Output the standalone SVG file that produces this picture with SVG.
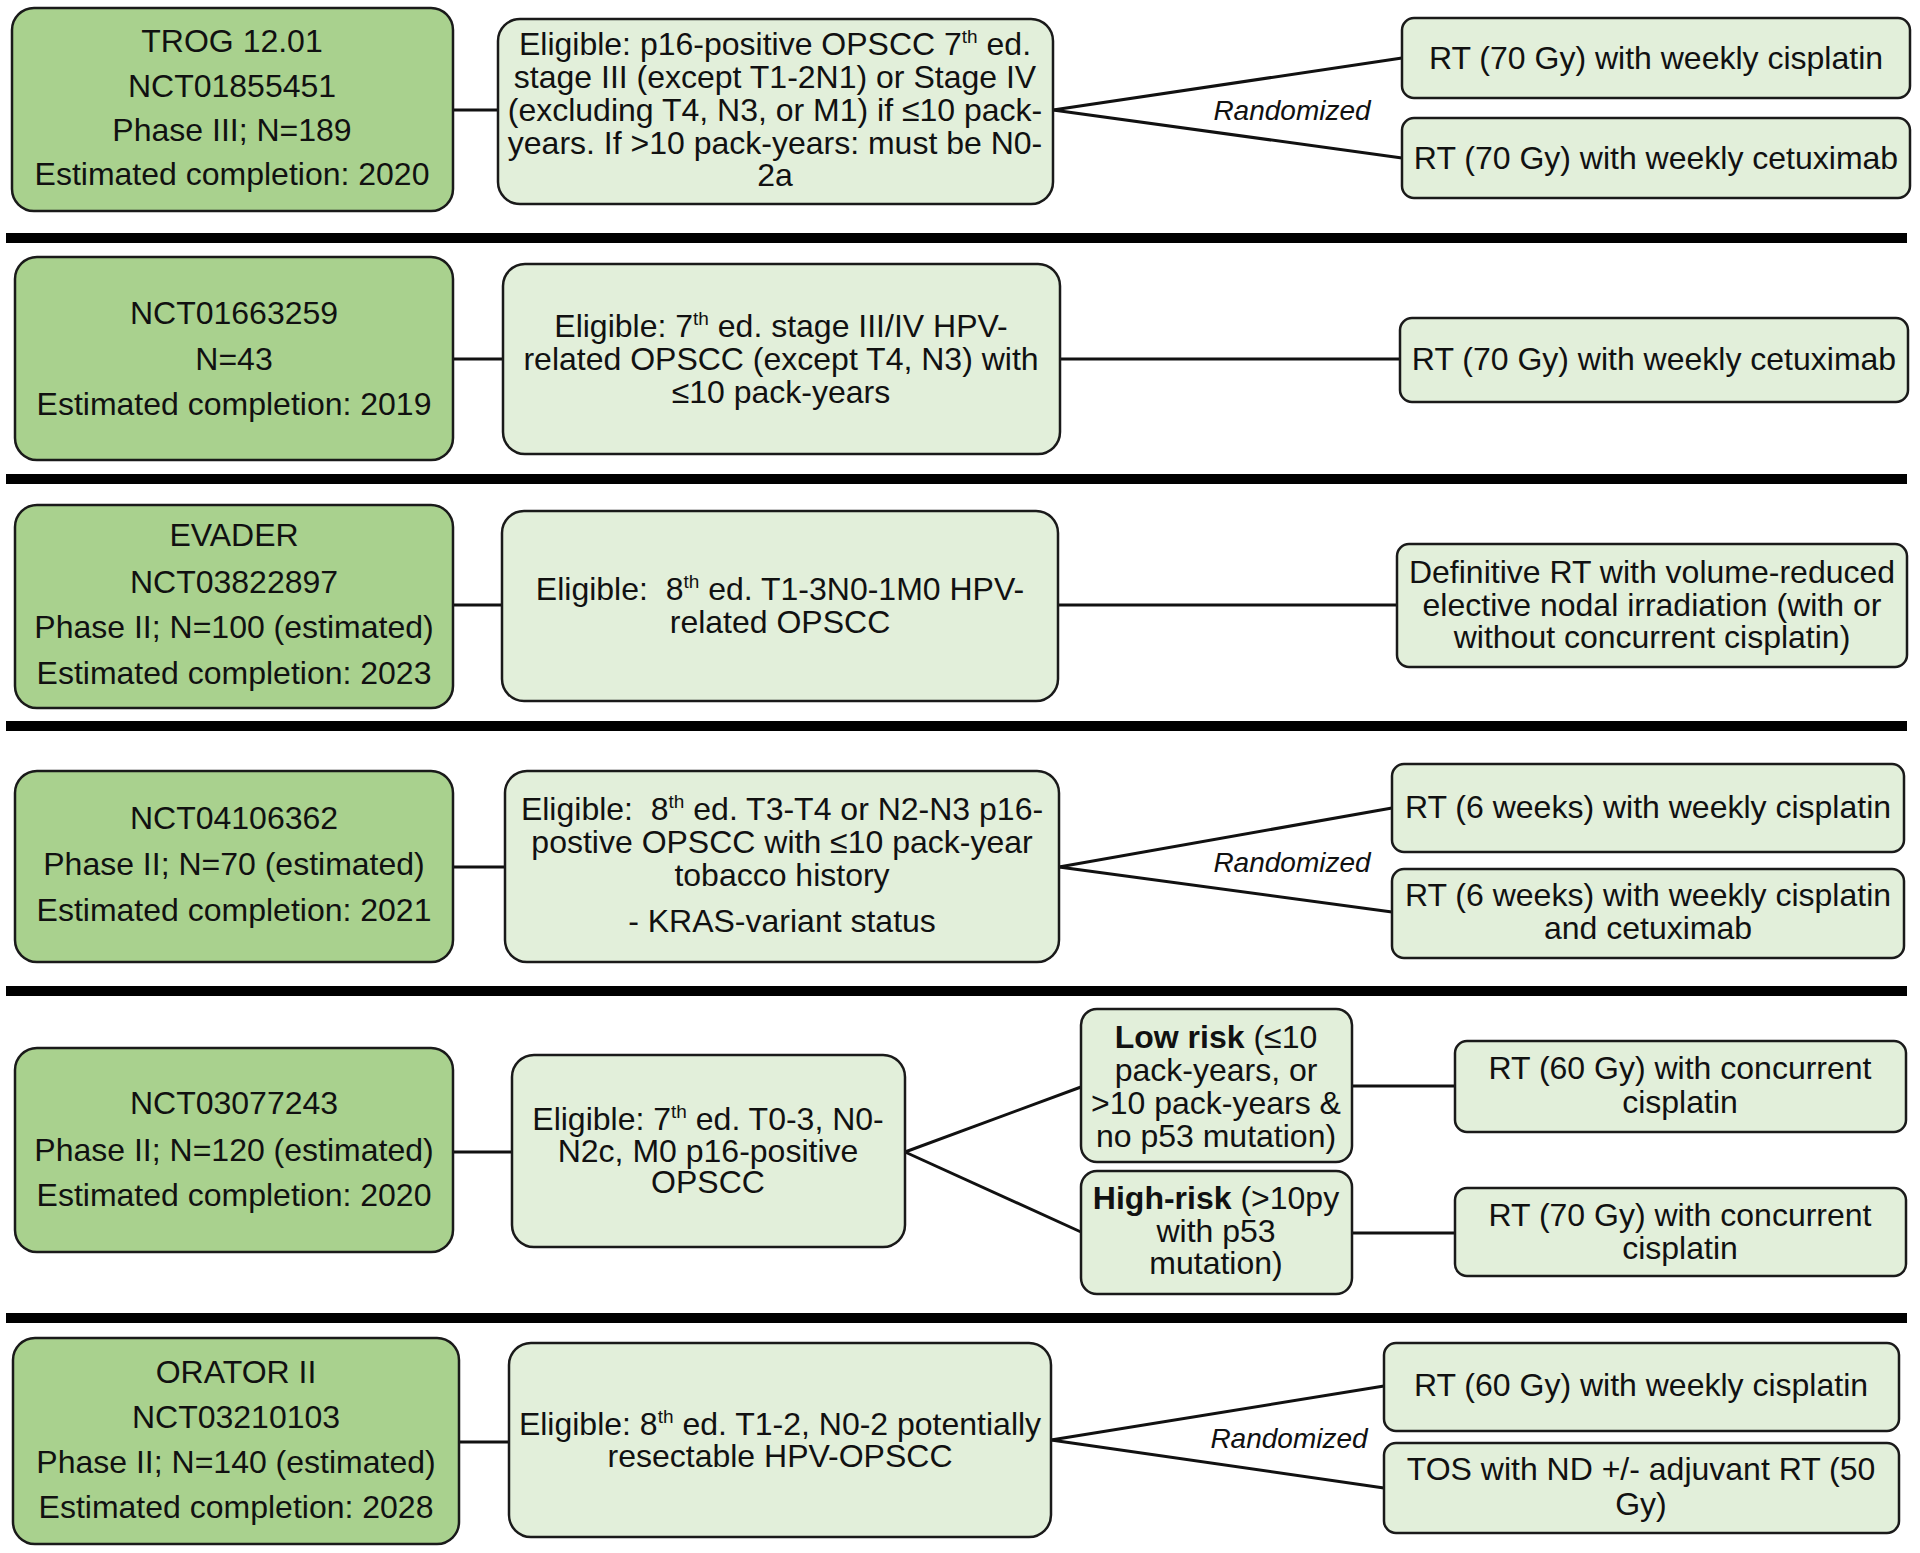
<svg xmlns="http://www.w3.org/2000/svg" width="1920" height="1553" viewBox="0 0 1920 1553">
<style>
  .trial{fill:#a9d18e;stroke:#1a1a1a;stroke-width:2.5}
  .box{fill:#e2efda;stroke:#1a1a1a;stroke-width:2.5}
  .bar{fill:#000}
  text{font-family:"Liberation Sans",Arial,sans-serif;font-size:32px;fill:#111;text-anchor:middle}
  .rand{font-size:28px;font-style:italic}
  .b{font-weight:bold}
  .conn line{stroke:#111;stroke-width:3}
</style>
<rect width="1920" height="1553" fill="#fff"/>
<g id="separators">
  <rect class="bar" x="6" y="233" width="1901" height="10"/>
  <rect class="bar" x="6" y="474" width="1901" height="10"/>
  <rect class="bar" x="6" y="721" width="1901" height="10"/>
  <rect class="bar" x="6" y="986" width="1901" height="10"/>
  <rect class="bar" x="6" y="1313" width="1901" height="10"/>
</g>
<g id="connectors" class="conn">
  <line x1="453" y1="110" x2="498" y2="110"/>
  <line x1="1053" y1="110" x2="1402" y2="58"/>
  <line x1="1053" y1="110" x2="1402" y2="158"/>
  <line x1="453" y1="359" x2="503" y2="359"/>
  <line x1="1060" y1="359" x2="1400" y2="359"/>
  <line x1="453" y1="605" x2="502" y2="605"/>
  <line x1="1058" y1="605" x2="1397" y2="605"/>
  <line x1="453" y1="867" x2="505" y2="867"/>
  <line x1="1059" y1="867" x2="1392" y2="808"/>
  <line x1="1059" y1="867" x2="1392" y2="912"/>
  <line x1="453" y1="1152" x2="512" y2="1152"/>
  <line x1="905" y1="1152" x2="1081" y2="1087"/>
  <line x1="905" y1="1152" x2="1081" y2="1232"/>
  <line x1="1352" y1="1086" x2="1455" y2="1086"/>
  <line x1="1352" y1="1233" x2="1455" y2="1233"/>
  <line x1="459" y1="1442" x2="509" y2="1442"/>
  <line x1="1051" y1="1440" x2="1384" y2="1386"/>
  <line x1="1051" y1="1440" x2="1384" y2="1488"/>
</g>
<g id="labels">
  <text class="rand" x="1292" y="120">Randomized</text>
  <text class="rand" x="1292" y="872">Randomized</text>
  <text class="rand" x="1289" y="1448">Randomized</text>
</g>
<!-- Row 1 -->
<g id="trog">
  <rect class="trial" x="12" y="8" width="441" height="203" rx="22"/>
  <text x="232" y="52">TROG 12.01</text>
  <text x="232" y="97">NCT01855451</text>
  <text x="232" y="141">Phase III; N=189</text>
  <text x="232" y="185">Estimated completion: 2020</text>
</g>
<g id="elig1">
  <rect class="box" x="498" y="19" width="555" height="185" rx="22"/>
  <text x="775" y="55">Eligible: p16-positive OPSCC 7<tspan font-size="19" dy="-12">th</tspan><tspan dy="12"> ed.</tspan></text>
  <text x="775" y="88">stage III (except T1-2N1) or Stage IV</text>
  <text x="775" y="121">(excluding T4, N3, or M1) if ≤10 pack-</text>
  <text x="775" y="154">years. If &gt;10 pack-years: must be N0-</text>
  <text x="775" y="186">2a</text>
</g>
<g id="arm1a">
  <rect class="box" x="1402" y="18" width="508" height="80" rx="12"/>
  <text x="1656" y="69">RT (70 Gy) with weekly cisplatin</text>
</g>
<g id="arm1b">
  <rect class="box" x="1402" y="118" width="508" height="80" rx="12"/>
  <text x="1656" y="169">RT (70 Gy) with weekly cetuximab</text>
</g>
<!-- Row 2 -->
<g id="nct01663259">
  <rect class="trial" x="15" y="257" width="438" height="203" rx="22"/>
  <text x="234" y="324">NCT01663259</text>
  <text x="234" y="370">N=43</text>
  <text x="234" y="415">Estimated completion: 2019</text>
</g>
<g id="elig2">
  <rect class="box" x="503" y="264" width="557" height="190" rx="22"/>
  <text x="781" y="337">Eligible: 7<tspan font-size="19" dy="-12">th</tspan><tspan dy="12"> ed. stage III/IV HPV-</tspan></text>
  <text x="781" y="370">related OPSCC (except T4, N3) with</text>
  <text x="781" y="403">≤10 pack-years</text>
</g>
<g id="arm2">
  <rect class="box" x="1400" y="318" width="508" height="84" rx="12"/>
  <text x="1654" y="370">RT (70 Gy) with weekly cetuximab</text>
</g>
<!-- Row 3 -->
<g id="evader">
  <rect class="trial" x="15" y="505" width="438" height="203" rx="22"/>
  <text x="234" y="546">EVADER</text>
  <text x="234" y="593">NCT03822897</text>
  <text x="234" y="638">Phase II; N=100 (estimated)</text>
  <text x="234" y="684">Estimated completion: 2023</text>
</g>
<g id="elig3">
  <rect class="box" x="502" y="511" width="556" height="190" rx="22"/>
  <text x="780" y="600">Eligible:&#160; 8<tspan font-size="19" dy="-12">th</tspan><tspan dy="12"> ed. T1-3N0-1M0 HPV-</tspan></text>
  <text x="780" y="633">related OPSCC</text>
</g>
<g id="arm3">
  <rect class="box" x="1397" y="544" width="510" height="123" rx="12"/>
  <text x="1652" y="583">Definitive RT with volume-reduced</text>
  <text x="1652" y="616">elective nodal irradiation (with or</text>
  <text x="1652" y="648">without concurrent cisplatin)</text>
</g>
<!-- Row 4 -->
<g id="nct04106362">
  <rect class="trial" x="15" y="771" width="438" height="191" rx="22"/>
  <text x="234" y="829">NCT04106362</text>
  <text x="234" y="875">Phase II; N=70 (estimated)</text>
  <text x="234" y="921">Estimated completion: 2021</text>
</g>
<g id="elig4">
  <rect class="box" x="505" y="771" width="554" height="191" rx="22"/>
  <text x="782" y="820">Eligible:&#160; 8<tspan font-size="19" dy="-12">th</tspan><tspan dy="12"> ed. T3-T4 or N2-N3 p16-</tspan></text>
  <text x="782" y="853">postive OPSCC with ≤10 pack-year</text>
  <text x="782" y="886">tobacco history</text>
  <text x="782" y="932">- KRAS-variant status</text>
</g>
<g id="arm4a">
  <rect class="box" x="1392" y="764" width="512" height="88" rx="12"/>
  <text x="1648" y="818">RT (6 weeks) with weekly cisplatin</text>
</g>
<g id="arm4b">
  <rect class="box" x="1392" y="869" width="512" height="89" rx="12"/>
  <text x="1648" y="906">RT (6 weeks) with weekly cisplatin</text>
  <text x="1648" y="939">and cetuximab</text>
</g>
<!-- Row 5 -->
<g id="nct03077243">
  <rect class="trial" x="15" y="1048" width="438" height="204" rx="22"/>
  <text x="234" y="1114">NCT03077243</text>
  <text x="234" y="1161">Phase II; N=120 (estimated)</text>
  <text x="234" y="1206">Estimated completion: 2020</text>
</g>
<g id="elig5">
  <rect class="box" x="512" y="1055" width="393" height="192" rx="22"/>
  <text x="708" y="1130">Eligible: 7<tspan font-size="19" dy="-12">th</tspan><tspan dy="12"> ed. T0-3, N0-</tspan></text>
  <text x="708" y="1162">N2c, M0 p16-positive</text>
  <text x="708" y="1193">OPSCC</text>
</g>
<g id="lowrisk">
  <rect class="box" x="1081" y="1009" width="271" height="153" rx="16"/>
  <text x="1216" y="1048"><tspan class="b">Low risk</tspan> (≤10</text>
  <text x="1216" y="1081">pack-years, or</text>
  <text x="1216" y="1114">&gt;10 pack-years &amp;</text>
  <text x="1216" y="1147">no p53 mutation)</text>
</g>
<g id="highrisk">
  <rect class="box" x="1081" y="1171" width="271" height="123" rx="16"/>
  <text x="1216" y="1209"><tspan class="b">High-risk</tspan> (&gt;10py</text>
  <text x="1216" y="1242">with p53</text>
  <text x="1216" y="1274">mutation)</text>
</g>
<g id="arm5a">
  <rect class="box" x="1455" y="1041" width="451" height="91" rx="12"/>
  <text x="1680" y="1079">RT (60 Gy) with concurrent</text>
  <text x="1680" y="1113">cisplatin</text>
</g>
<g id="arm5b">
  <rect class="box" x="1455" y="1188" width="451" height="88" rx="12"/>
  <text x="1680" y="1226">RT (70 Gy) with concurrent</text>
  <text x="1680" y="1259">cisplatin</text>
</g>
<!-- Row 6 -->
<g id="orator2">
  <rect class="trial" x="13" y="1338" width="446" height="206" rx="22"/>
  <text x="236" y="1383">ORATOR II</text>
  <text x="236" y="1428">NCT03210103</text>
  <text x="236" y="1473">Phase II; N=140 (estimated)</text>
  <text x="236" y="1518">Estimated completion: 2028</text>
</g>
<g id="elig6">
  <rect class="box" x="509" y="1343" width="542" height="194" rx="22"/>
  <text x="780" y="1435">Eligible: 8<tspan font-size="19" dy="-12">th</tspan><tspan dy="12"> ed. T1-2, N0-2 potentially</tspan></text>
  <text x="780" y="1467">resectable HPV-OPSCC</text>
</g>
<g id="arm6a">
  <rect class="box" x="1384" y="1343" width="515" height="88" rx="12"/>
  <text x="1641" y="1396">RT (60 Gy) with weekly cisplatin</text>
</g>
<g id="arm6b">
  <rect class="box" x="1384" y="1443" width="515" height="90" rx="12"/>
  <text x="1641" y="1480">TOS with ND +/- adjuvant RT (50</text>
  <text x="1641" y="1515">Gy)</text>
</g>
</svg>
